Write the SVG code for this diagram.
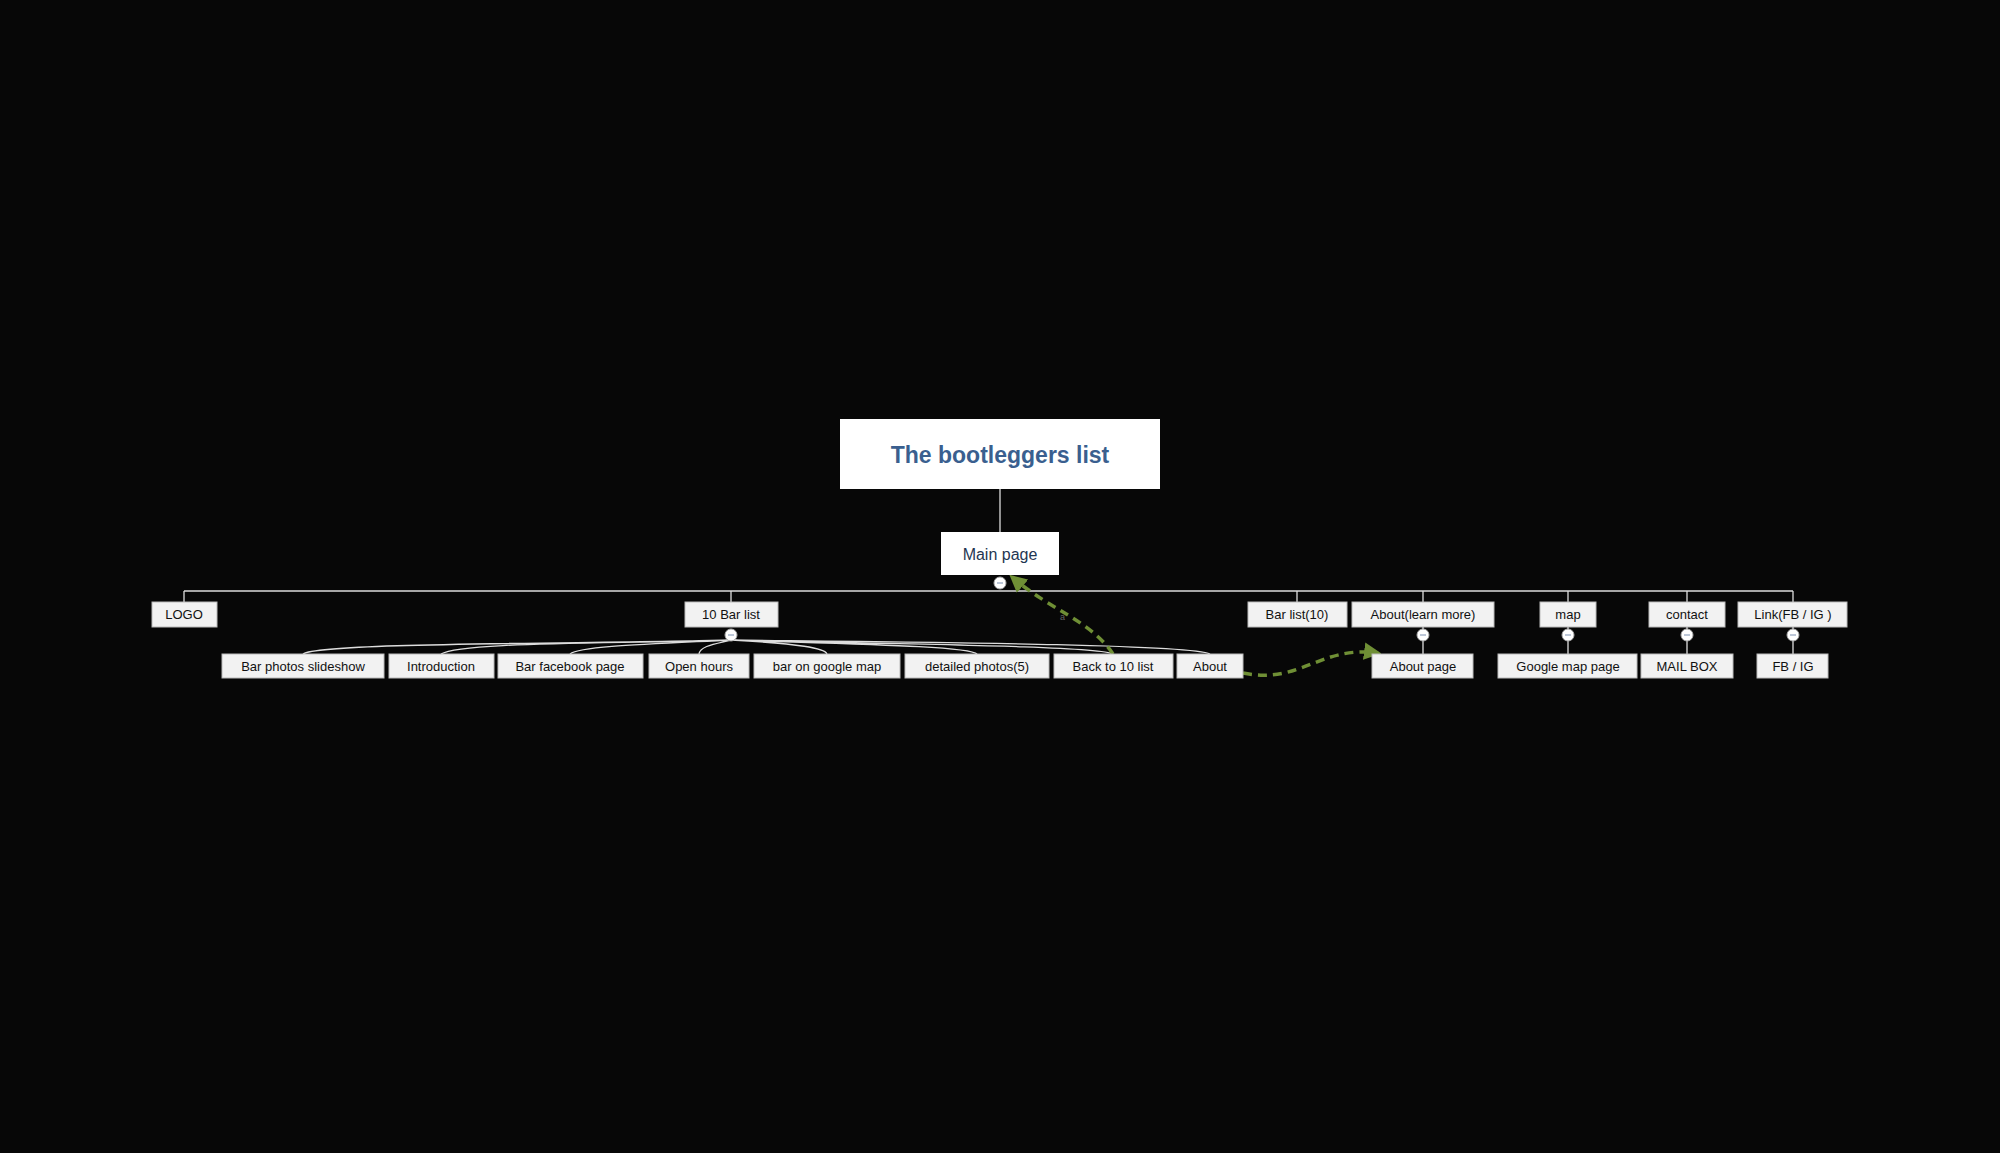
<svg xmlns="http://www.w3.org/2000/svg" width="2000" height="1153" viewBox="0 0 2000 1153">
<defs>
<style>
.n{fill:#f2f2f2;stroke:#bbb;stroke-width:1}
.t{font-family:"Liberation Sans",Arial,sans-serif;font-size:13px;fill:#111;text-anchor:middle}
.c{fill:none;stroke:#ddd;stroke-width:1.3}
.g{fill:none;stroke:#6f8f35;stroke-width:3.5;stroke-dasharray:9,6}
.k{fill:#fff;stroke:#aaa}
</style>
<marker id="ah" viewBox="0 0 10 10" refX="8" refY="5" markerWidth="5" markerHeight="5" orient="auto"><path d="M0,0L10,5L0,10z" fill="#6f8f35"/></marker>
</defs>
<rect width="2000" height="1153" fill="#070707"/>
<g id="connectors">
<line class="c" x1="1000" y1="489" x2="1000" y2="532"/>
<line class="c" x1="184" y1="591" x2="1793" y2="591"/>
<path class="c" d="M184 591V602M731 591V602M1297 591V602M1423 591V602M1568 591V602M1687 591V602M1793 591V602"/>
<path class="c" d="M731 640C600 644 320 642 303 654M731 640C600 644 460 642 441 654M731 640C650 644 580 646 570 654M731 640C715 644 700 646 699 654M731 640C800 644 825 648 827 654M731 640C850 644 970 646 977 654M731 640C900 644 1100 646 1113 654M731 640C900 642 1190 644 1210 654"/>
<path class="c" d="M1423 627V654M1568 627V654M1687 627V654M1793 627V654"/>
<path class="g" d="M1113 654C1090 620 1050 610 1012 577" marker-end="url(#ah)"/>
<text x="1060" y="620" font-family="Liberation Sans,sans-serif" font-size="9" fill="#666">a</text>
<path class="g" d="M1243 673C1300 685 1320 645 1378 653" marker-end="url(#ah)"/>
</g>
<g id="title"><rect x="840" y="419" width="320" height="70" fill="#fff"/><text x="1000" y="463" font-family="Liberation Sans,Arial,sans-serif" font-size="23" font-weight="bold" fill="#3a5f8f" text-anchor="middle">The bootleggers list</text></g>
<g id="main"><rect x="941" y="532" width="118" height="43" fill="#fff"/><text x="1000" y="560" font-family="Liberation Sans,Arial,sans-serif" font-size="16" fill="#1f3652" text-anchor="middle">Main page</text></g>
<g id="logo"><rect class="n" x="152" y="602" width="65" height="25"/><text class="t" x="184" y="619">LOGO</text></g>
<g id="barlist"><rect class="n" x="685" y="602" width="93" height="25"/><text class="t" x="731" y="619">10 Bar list</text></g>
<g id="barlist10"><rect class="n" x="1248" y="602" width="99" height="25"/><text class="t" x="1297" y="619">Bar list(10)</text></g>
<g id="aboutlm"><rect class="n" x="1352" y="602" width="142" height="25"/><text class="t" x="1423" y="619">About(learn more)</text></g>
<g id="map"><rect class="n" x="1540" y="602" width="56" height="25"/><text class="t" x="1568" y="619">map</text></g>
<g id="contact"><rect class="n" x="1649" y="602" width="76" height="25"/><text class="t" x="1687" y="619">contact</text></g>
<g id="link"><rect class="n" x="1738" y="602" width="109" height="25"/><text class="t" x="1793" y="619">Link(FB / IG )</text></g>
<g id="c1"><rect class="n" x="222" y="654" width="162" height="24"/><text class="t" x="303" y="671">Bar photos slideshow</text></g>
<g id="c2"><rect class="n" x="389" y="654" width="105" height="24"/><text class="t" x="441" y="671">Introduction</text></g>
<g id="c3"><rect class="n" x="498" y="654" width="145" height="24"/><text class="t" x="570" y="671">Bar facebook page</text></g>
<g id="c4"><rect class="n" x="649" y="654" width="100" height="24"/><text class="t" x="699" y="671">Open hours</text></g>
<g id="c5"><rect class="n" x="754" y="654" width="146" height="24"/><text class="t" x="827" y="671">bar on google map</text></g>
<g id="c6"><rect class="n" x="905" y="654" width="144" height="24"/><text class="t" x="977" y="671">detailed photos(5)</text></g>
<g id="c7"><rect class="n" x="1054" y="654" width="119" height="24"/><text class="t" x="1113" y="671">Back to 10 list</text></g>
<g id="c8"><rect class="n" x="1177" y="654" width="66" height="24"/><text class="t" x="1210" y="671">About</text></g>
<g id="aboutpage"><rect class="n" x="1372" y="654" width="101" height="24"/><text class="t" x="1423" y="671">About page</text></g>
<g id="gmap"><rect class="n" x="1498" y="654" width="139" height="24"/><text class="t" x="1568" y="671">Google map page</text></g>
<g id="mail"><rect class="n" x="1641" y="654" width="92" height="24"/><text class="t" x="1687" y="671">MAIL BOX</text></g>
<g id="fbig"><rect class="n" x="1757" y="654" width="71" height="24"/><text class="t" x="1793" y="671">FB / IG</text></g>
<g id="toggles">
<ellipse class="k" cx="1000" cy="583" rx="6" ry="6"/><ellipse class="k" cx="731" cy="635" rx="6" ry="6"/><ellipse class="k" cx="1423" cy="635" rx="6" ry="6"/><ellipse class="k" cx="1568" cy="635" rx="6" ry="6"/><ellipse class="k" cx="1687" cy="635" rx="6" ry="6"/><ellipse class="k" cx="1793" cy="635" rx="6" ry="6"/>
<path d="M997 583h6M728 635h6M1420 635h6M1565 635h6M1684 635h6M1790 635h6" stroke="#7a8fb0" stroke-width="1"/>
</g>
</svg>
